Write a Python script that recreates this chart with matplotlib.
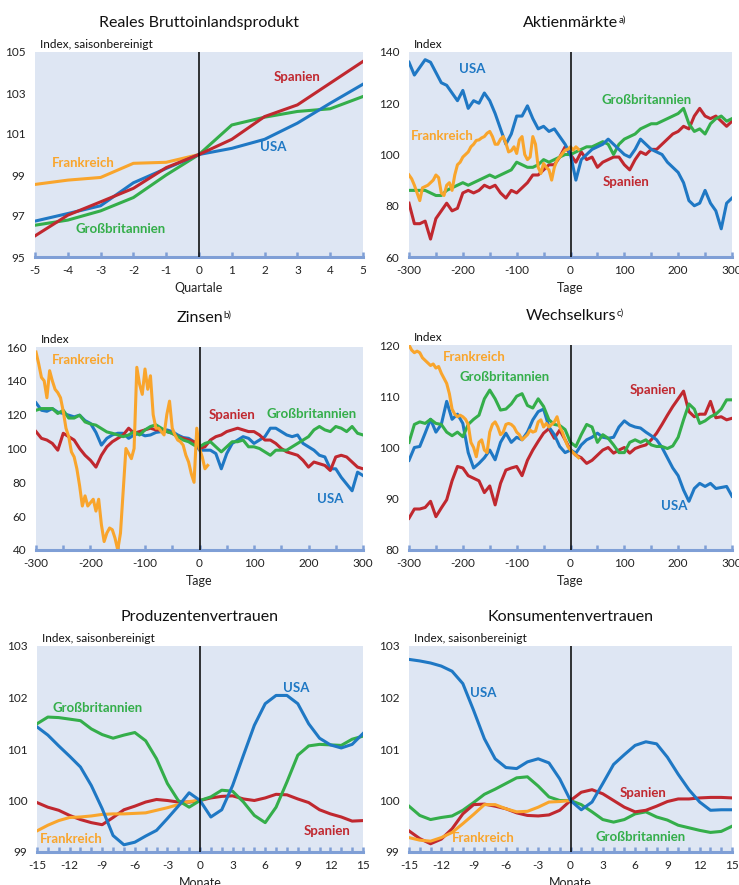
import numpy as np
import matplotlib
matplotlib.use("Agg")
import matplotlib.pyplot as plt
from matplotlib.ticker import MultipleLocator

plt.rcParams['font.family'] = ['Lato', 'DejaVu Sans']
plt.rcParams['axes.unicode_minus'] = False

# ---------------- data ----------------
# Reales BIP (Quartale)
quarters = [-5, -4, -3, -2, -1, 0, 1, 2, 3, 4, 5]
gdp_usa = [96.75, 97.12, 97.5, 98.62, 99.32, 100.0, 100.3, 100.74, 101.53, 102.5, 103.43]
gdp_esp = [96.03, 97.04, 97.69, 98.35, 99.36, 100.0, 100.74, 101.85, 102.42, 103.48, 104.54]
gdp_gbr = [96.55, 96.8, 97.25, 97.9, 99.0, 100.0, 101.44, 101.82, 102.1, 102.23, 102.83]
quarters_fra = [-5, -4, -3, -2, -1, 0]
gdp_fra = [98.54, 98.75, 98.88, 99.57, 99.62, 100.0]

# Tage (10-Tage-Raster) und Frankreich (5-Tage-Raster bis Tag 15)
days = list(range(-300, 301, 10))
days_fra = list(range(-300, 16, 5))

stk_usa = [136, 131, 134, 137, 136, 132, 128, 127, 124, 121, 125, 118, 121, 120, 124, 121,
           116, 110, 104, 108, 115, 115, 119, 114, 110, 111, 109, 110, 107, 104, 100, 90,
           98, 100, 102, 103, 104, 106, 104, 102, 100, 99, 102, 106, 104, 102, 101, 100,
           97, 95, 93, 89, 82, 80, 81, 86, 81, 78, 71, 81, 83]
stk_esp = [81, 73, 73, 74, 67, 75, 78, 81, 78, 79, 85, 86, 85, 86, 88, 87, 88, 85, 83, 86,
           85, 87, 89, 92, 92, 94, 96, 96, 99, 103, 100, 97, 101, 98, 99, 95, 97, 98, 99, 99,
           96, 94, 98, 101, 100, 102, 102, 104, 106, 108, 109, 111, 110, 115, 118, 115, 114,
           115, 113, 111, 113]
stk_gbr = [86, 86, 86, 86, 85, 84, 84, 86, 87, 88, 89, 88, 89, 90, 91, 92, 91, 92, 93, 94,
           97, 96, 95, 95, 96, 98, 97, 98, 99, 100, 100, 101, 102, 103, 103, 104, 105, 104,
           100, 104, 106, 107, 108, 110, 111, 112, 112, 113, 114, 115, 116, 118, 112, 109,
           110, 108, 112, 114, 115, 113, 114]
stk_fra = [92, 90.5, 88, 85, 82, 87, 87.5, 88, 89, 90, 92, 91, 85, 84, 88, 89, 86, 92, 96,
           97, 99, 100, 101, 103, 104, 105.5, 105.7, 106.5, 107, 108.3, 109, 107, 104, 104,
           106, 107, 104.4, 101, 101.5, 103, 100.4, 105.7, 107, 100, 98, 99, 107, 104, 95,
           92.6, 96.5, 95, 94, 90, 95, 97.8, 99, 100.4, 101.7, 102, 103, 101.7, 103, 102]

int_usa = [127, 122.6, 122, 123.6, 121.5, 120.7, 119.7, 118.7, 119.7, 116.5, 114.8, 109.5,
           102, 106, 108, 109, 109, 106, 108, 109, 107.5, 108, 109.5, 110, 111, 110, 108,
           106.5, 106, 104, 99, 99, 99, 97, 88, 97, 103, 105, 107, 106, 103, 105, 107, 112,
           112, 110, 108, 107, 108, 103, 101, 99, 96, 95, 88, 88, 83, 79, 75, 86, 84]
int_esp = [110, 106, 105, 103, 99, 109, 107, 105, 100, 96, 93, 89, 96, 101, 104, 106, 108,
           112, 109, 110, 111, 112, 111, 111, 110, 109, 107, 106, 105, 104, 100, 101, 105,
           107, 108, 110, 111, 112, 111, 110, 110, 108, 105, 105, 103, 100, 98, 97, 96, 93,
           89, 92, 91, 90, 87, 95, 96, 95, 92, 89, 88]
int_gbr = [122.6, 123.6, 123.6, 123.6, 120.7, 122.6, 118, 118, 119.7, 115.7, 114.5, 113.8,
           111.8, 109.8, 109, 108, 107, 108, 110, 108, 111, 113, 114, 112, 110, 109, 107, 105,
           104, 102, 101, 103, 104, 101, 98, 101, 104, 104, 105, 101, 101, 100, 98, 96, 99,
           99, 99, 101, 103, 105, 107, 111, 113, 111, 110, 113, 112, 110, 113, 109, 108]
int_fra = [157, 150, 142, 140, 130, 146, 140, 135, 133, 130, 122, 112, 107, 98, 95, 88, 78,
           66, 72, 66, 68, 70, 63, 70, 55, 45, 50, 53, 52, 47, 40, 50, 75, 100, 97, 94, 100,
           148, 138, 132, 147, 135, 143, 120, 112, 112, 110, 108, 120, 128, 112, 108, 105,
           104, 102, 96, 92, 85, 80, 112, 100, 95, 88, 90]

fx_usa = [97.5, 100, 100.2, 102.8, 105.5, 103, 104.5, 109, 105.5, 106.5, 104.7, 99, 96, 96.9,
          98, 99.5, 97.6, 101, 102.8, 101, 102, 101.5, 103, 105.4, 107, 107.5, 104, 102.5,
          100.2, 99, 99.5, 98.9, 100.5, 101.5, 102, 102.8, 102, 101.8, 102, 104, 105.2, 104.4,
          104, 103.8, 103, 102.3, 101.5, 100, 98, 96, 94.5, 91.7, 89.5, 92, 93, 92.4, 93, 92,
          92.2, 92.4, 90.5]
fx_esp = [86.2, 88, 88, 88.3, 89.5, 86.5, 88.2, 89.8, 93.5, 96.3, 96, 94.5, 94, 93.5, 91.2,
          92.5, 88.8, 93, 95.6, 96, 96.3, 94.5, 97.5, 99.5, 101.2, 102.8, 103.7, 101.8, 103.4,
          101.5, 99.5, 98.5, 98, 96.9, 97.5, 98.5, 99.5, 100, 98.9, 99.5, 100, 98.9, 99.8,
          100.2, 100.5, 101.5, 102.8, 104.5, 106.3, 108, 109.5, 111, 107, 106, 106.5, 106.5,
          109, 105.8, 106, 105.4, 105.7]
fx_gbr = [101, 104.5, 105, 104.7, 105.5, 104.7, 104.5, 103, 102.3, 103, 102.1, 104.5, 105.5,
          106.3, 109.5, 111.2, 109.5, 107.3, 107.5, 108.5, 110, 110.5, 108.2, 107.7, 109.5,
          108, 105.4, 104.5, 104.3, 103.5, 101, 100.2, 102.5, 104.5, 104, 101, 102.5, 101.8,
          100.5, 99, 99, 101, 101.5, 101, 101.5, 100.5, 100.2, 100.2, 99.8, 100.3, 102, 105.4,
          108.5, 107.5, 104.7, 105.2, 106, 106.5, 107.5, 109.3, 109.3]
fx_fra = [120, 119, 118.5, 118.8, 118.5, 117.5, 117, 116.5, 116, 116.3, 115.5, 115.8, 114.5,
          113.5, 112.5, 110.5, 107.5, 106.5, 106, 106.3, 106, 105.5, 104.5, 101, 100, 98.2,
          101, 101.5, 99.5, 99, 103, 104.5, 105, 104, 102.5, 103, 104.5, 104.7, 104.5, 104,
          103, 102.5, 101.5, 102, 102.5, 103.4, 103, 103.2, 105, 105.4, 104, 104.7, 104,
          104.5, 105, 106, 104, 103, 101.5, 100.2, 99.5, 99, 98.5, 98]

# Monate
months = list(range(-15, 16))
months_fra = list(range(-15, 1))
prod_usa = [101.43, 101.27, 101.06, 100.86, 100.65, 100.29, 99.84, 99.32, 99.14, 99.19, 99.31,
            99.42, 99.65, 99.89, 100.15, 100.0, 99.68, 99.82, 100.29, 100.88, 101.46, 101.88,
            102.04, 102.04, 101.88, 101.49, 101.21, 101.08, 101.02, 101.09, 101.3]
prod_gbr = [101.49, 101.62, 101.61, 101.58, 101.55, 101.39, 101.28, 101.21, 101.27, 101.32,
            101.16, 100.81, 100.33, 100.0, 99.87, 100.0, 100.07, 100.2, 100.18, 99.97, 99.71,
            99.57, 99.87, 100.36, 100.88, 101.06, 101.09, 101.08, 101.07, 101.19, 101.25]
prod_esp = [99.96, 99.87, 99.81, 99.71, 99.63, 99.57, 99.53, 99.67, 99.82, 99.89, 99.97,
            100.02, 100.0, 99.97, 99.97, 100.0, 100.05, 100.08, 100.09, 100.03, 100.0, 100.05,
            100.12, 100.11, 100.03, 99.96, 99.82, 99.74, 99.68, 99.6, 99.61]
prod_fra = [99.41, 99.52, 99.61, 99.67, 99.68, 99.7, 99.73, 99.74, 99.74, 99.75, 99.76, 99.81,
            99.86, 99.92, 99.98, 100.0]

kons_usa = [102.74, 102.71, 102.67, 102.61, 102.51, 102.27, 101.75, 101.2, 100.81, 100.64,
            100.62, 100.75, 100.81, 100.73, 100.42, 100.0, 99.82, 99.97, 100.33, 100.7, 100.89,
            101.07, 101.14, 101.1, 100.84, 100.51, 100.21, 99.97, 99.81, 99.82, 99.82]
kons_esp = [99.41, 99.26, 99.16, 99.25, 99.45, 99.74, 99.92, 99.93, 99.89, 99.84, 99.76,
            99.71, 99.7, 99.72, 99.81, 100.0, 100.16, 100.21, 100.13, 100.0, 99.87, 99.78,
            99.81, 99.89, 99.98, 100.03, 100.03, 100.05, 100.06, 100.06, 100.05]
kons_gbr = [99.89, 99.71, 99.63, 99.67, 99.7, 99.81, 99.96, 100.12, 100.22, 100.33, 100.44,
            100.46, 100.28, 100.07, 100.0, 100.0, 99.92, 99.78, 99.63, 99.58, 99.63, 99.74,
            99.78, 99.68, 99.62, 99.52, 99.47, 99.42, 99.38, 99.4, 99.5]
kons_fra = [99.28, 99.23, 99.21, 99.28, 99.38, 99.55, 99.73, 99.92, 99.92, 99.84, 99.78,
            99.79, 99.87, 99.97, 99.98, 100.0]

# ---------------- styling ----------------
C_USA = '#1F78C4'
C_ESP = '#C0282F'
C_GBR = '#34AE4A'
C_FRA = '#F9A52C'
BG = '#DEE6F3'
AXC = '#7F9FD6'
LW = 2.2

fig = plt.figure(figsize=(7.39, 8.85), dpi=100)

W, H = 739.0, 885.0
def add_ax(l, r, t, b):
    return fig.add_axes([l / W, 1 - b / H, (r - l) / W, (b - t) / H])

ax1 = add_ax(35, 363, 52, 257)
ax2 = add_ax(409, 732, 52, 257)
ax3 = add_ax(36, 363, 347, 550)
ax4 = add_ax(409, 732, 345, 550)
ax5 = add_ax(37, 363, 646, 852)
ax6 = add_ax(409, 732, 646, 852)

def style(ax, xlim, ylim, xmaj, xmin, ymaj, xlabel, title, unit, sup=None):
    ax.set_facecolor(BG)
    for s in ['top', 'right', 'left']:
        ax.spines[s].set_visible(False)
    ax.spines['bottom'].set_color(AXC)
    ax.spines['bottom'].set_linewidth(2.2)
    ax.set_xlim(*xlim)
    ax.set_ylim(*ylim)
    ax.xaxis.set_major_locator(MultipleLocator(xmaj))
    ax.xaxis.set_minor_locator(MultipleLocator(xmin))
    ax.yaxis.set_major_locator(MultipleLocator(ymaj))
    ax.tick_params(axis='x', which='both', direction='in', color=AXC, width=1.8,
                   length=3.5, labelsize=8.5, pad=6, labelcolor='#222222')
    ax.tick_params(axis='y', which='both', length=0, labelsize=8.5, pad=7,
                   labelcolor='#222222')
    ax.axvline(0, color='black', lw=1.1, zorder=5)
    ax.set_xlabel(xlabel, fontsize=9, labelpad=4, color='#222222')
    t = ax.set_title(title, fontsize=11.5, pad=18, color='#111111')
    if sup:
        ax.annotate(sup, xy=(1, 1), xycoords=t, xytext=(0.5, 0), textcoords='offset points',
                    ha='left', va='top', fontsize=7, color='#111111')
    ax.text(0.015, 1.012, unit, transform=ax.transAxes, fontsize=8.5, va='bottom',
            ha='left', color='#111111')

def lab(ax, x, y, s, c):
    ax.text(x, y, s, color=c, fontsize=9.5, fontweight='bold', ha='center', va='center',
            zorder=6)

# Panel 1: BIP
style(ax1, (-5, 5), (95, 105), 1, 1, 2, 'Quartale', 'Reales Bruttoinlandsprodukt',
      'Index, saisonbereinigt')
ax1.set_yticks([95, 97, 99, 101, 103, 105])
ax1.plot(quarters_fra, gdp_fra, color=C_FRA, lw=LW)
ax1.plot(quarters, gdp_gbr, color=C_GBR, lw=LW)
ax1.plot(quarters, gdp_usa, color=C_USA, lw=LW)
ax1.plot(quarters, gdp_esp, color=C_ESP, lw=LW)
lab(ax1, 2.98, 103.78, 'Spanien', C_ESP)
lab(ax1, 2.25, 100.35, 'USA', C_USA)
lab(ax1, -3.53, 99.57, 'Frankreich', C_FRA)
lab(ax1, -2.39, 96.39, 'Großbritannien', C_GBR)

# Panel 2: Aktien
style(ax2, (-300, 300), (60, 140), 100, 50, 20, 'Tage', 'Aktienmärkte', 'Index', 'a)')
ax2.plot(days, stk_esp, color=C_ESP, lw=LW)
ax2.plot(days, stk_gbr, color=C_GBR, lw=LW)
ax2.plot(days, stk_usa, color=C_USA, lw=LW)
ax2.plot(days_fra, stk_fra, color=C_FRA, lw=LW)
lab(ax2, -183, 133.5, 'USA', C_USA)
lab(ax2, 141, 121.1, 'Großbritannien', C_GBR)
lab(ax2, -239, 107.2, 'Frankreich', C_FRA)
lab(ax2, 104, 89.3, 'Spanien', C_ESP)

# Panel 3: Zinsen
style(ax3, (-300, 300), (40, 160), 100, 50, 20, 'Tage', 'Zinsen', 'Index', 'b)')
ax3.plot(days, int_usa, color=C_USA, lw=LW)
ax3.plot(days, int_esp, color=C_ESP, lw=LW)
ax3.plot(days, int_gbr, color=C_GBR, lw=LW)
ax3.plot(days_fra, int_fra, color=C_FRA, lw=LW)
lab(ax3, -214, 152.1, 'Frankreich', C_FRA)
lab(ax3, 60, 119.7, 'Spanien', C_ESP)
lab(ax3, 205, 120.3, 'Großbritannien', C_GBR)
lab(ax3, 240, 70.1, 'USA', C_USA)

# Panel 4: Wechselkurs
style(ax4, (-300, 300), (80, 120), 100, 50, 10, 'Tage', 'Wechselkurs', 'Index', 'c)')
ax4.plot(days, fx_esp, color=C_ESP, lw=LW)
ax4.plot(days, fx_usa, color=C_USA, lw=LW)
ax4.plot(days, fx_gbr, color=C_GBR, lw=LW)
ax4.plot(days_fra, fx_fra, color=C_FRA, lw=LW)
lab(ax4, -179, 117.7, 'Frankreich', C_FRA)
lab(ax4, -123, 113.8, 'Großbritannien', C_GBR)
lab(ax4, 153, 111.2, 'Spanien', C_ESP)
lab(ax4, 193, 88.65, 'USA', C_USA)

# Panel 5: Produzentenvertrauen
style(ax5, (-15, 15), (99, 103), 3, 1, 1, 'Monate', 'Produzentenvertrauen',
      'Index, saisonbereinigt')
ax5.plot(months, prod_esp, color=C_ESP, lw=LW)
ax5.plot(months_fra, prod_fra, color=C_FRA, lw=LW)
ax5.plot(months, prod_gbr, color=C_GBR, lw=LW)
ax5.plot(months, prod_usa, color=C_USA, lw=LW)
lab(ax5, 8.86, 102.19, 'USA', C_USA)
lab(ax5, -9.41, 101.8, 'Großbritannien', C_GBR)
lab(ax5, -11.87, 99.25, 'Frankreich', C_FRA)
lab(ax5, 11.71, 99.4, 'Spanien', C_ESP)

# Panel 6: Konsumentenvertrauen
style(ax6, (-15, 15), (99, 103), 3, 1, 1, 'Monate', 'Konsumentenvertrauen',
      'Index, saisonbereinigt')
ax6.plot(months, kons_gbr, color=C_GBR, lw=LW)
ax6.plot(months, kons_esp, color=C_ESP, lw=LW)
ax6.plot(months_fra, kons_fra, color=C_FRA, lw=LW)
ax6.plot(months, kons_usa, color=C_USA, lw=LW)
lab(ax6, -8.09, 102.09, 'USA', C_USA)
lab(ax6, 6.78, 100.15, 'Spanien', C_ESP)
lab(ax6, -8.09, 99.27, 'Frankreich', C_FRA)
lab(ax6, 6.54, 99.29, 'Großbritannien', C_GBR)

fig.savefig('out.png', dpi=100, facecolor='white')
